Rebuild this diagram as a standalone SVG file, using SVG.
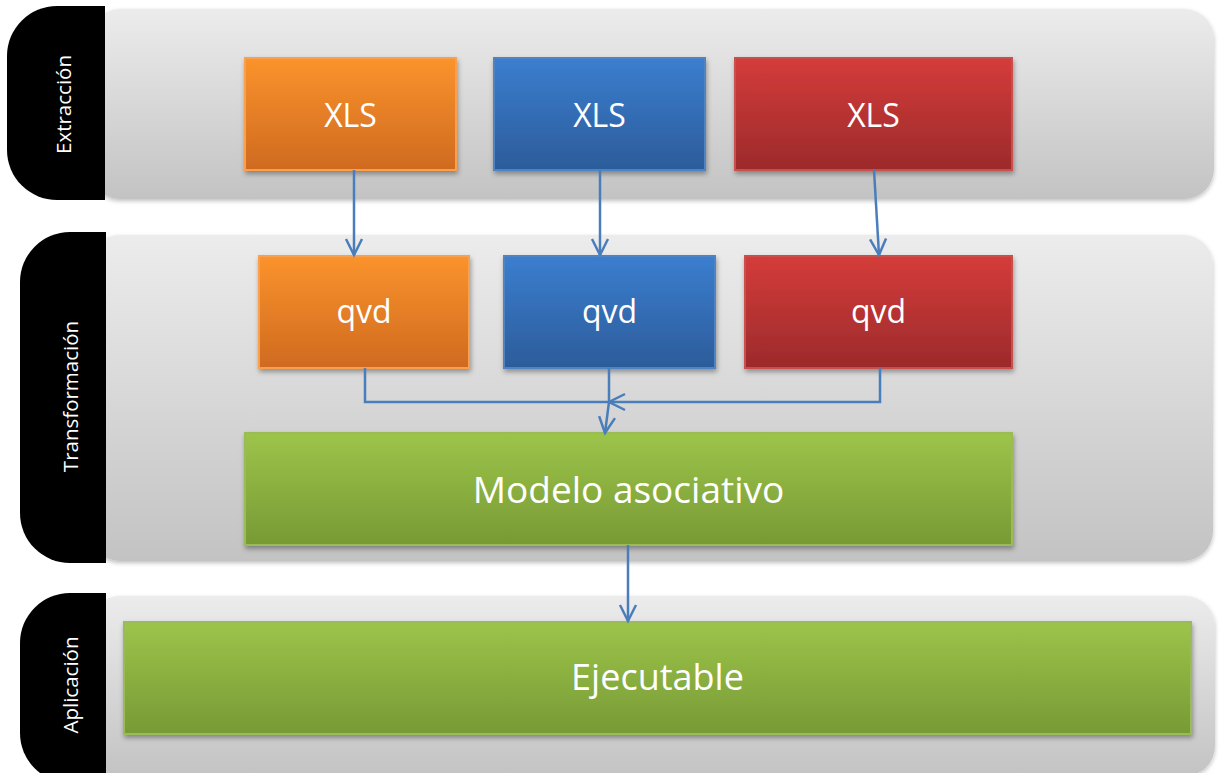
<svg xmlns="http://www.w3.org/2000/svg" width="1219" height="773" viewBox="0 0 1219 773">
<defs>
<linearGradient id="gBand" x1="0" y1="0" x2="0" y2="1"><stop offset="0" stop-color="#ececec"/><stop offset="1" stop-color="#c3c3c3"/></linearGradient>
<linearGradient id="gOrange" x1="0" y1="0" x2="0" y2="1"><stop offset="0" stop-color="#fb932d"/><stop offset="1" stop-color="#cf6a1f"/></linearGradient>
<linearGradient id="gBlue" x1="0" y1="0" x2="0" y2="1"><stop offset="0" stop-color="#3b7ecf"/><stop offset="1" stop-color="#2c5c9a"/></linearGradient>
<linearGradient id="gRed" x1="0" y1="0" x2="0" y2="1"><stop offset="0" stop-color="#d43c3a"/><stop offset="1" stop-color="#9c2a2b"/></linearGradient>
<linearGradient id="gGreen" x1="0" y1="0" x2="0" y2="1"><stop offset="0" stop-color="#9dc44a"/><stop offset="1" stop-color="#779a35"/></linearGradient>
<filter id="sh" x="-5%" y="-10%" width="110%" height="125%"><feDropShadow dx="1" dy="3" stdDeviation="2.5" flood-color="#000" flood-opacity="0.35"/></filter>
<filter id="shB" x="-5%" y="-10%" width="110%" height="125%"><feDropShadow dx="0" dy="2" stdDeviation="2" flood-color="#000" flood-opacity="0.25"/></filter>
<marker id="arr" markerUnits="userSpaceOnUse" markerWidth="22" markerHeight="22" viewBox="0 0 22 22" refX="19" refY="11" orient="auto"><path d="M3,3 L19,11 L3,19" fill="none" stroke="#4a7ebb" stroke-width="2.5"/></marker>
</defs>
<style>
.band{fill:url(#gBand);filter:url(#shB)}
.tab{fill:#000}
.tabtxt{font-family:"Open Sans","Liberation Sans",sans-serif;font-size:20.5px;fill:#fff;text-anchor:middle}
.box{filter:url(#sh);stroke-width:2}
.o{fill:url(#gOrange);stroke:#f9a04f}
.b{fill:url(#gBlue);stroke:#4f84c4}
.r{fill:url(#gRed);stroke:#c9504e}
.g{fill:url(#gGreen);stroke:#9bbb59}
.t{font-family:"Open Sans","Liberation Sans",sans-serif;font-size:32px;fill:#fff;text-anchor:middle}
.tl{font-family:"Open Sans","Liberation Sans",sans-serif;font-size:37px;fill:#fff;text-anchor:middle}
.c{fill:none;stroke:#4a7ebb;stroke-width:2.5}
</style>

<g id="band-extraccion">
<rect class="band" x="90" y="9" width="1124" height="190" rx="30"/>
<path class="tab" d="M105,6 H57 A50,50 0 0 0 7,56 V150 A50,50 0 0 0 57,200 H105 Z"/>
<text class="tabtxt" transform="translate(71,104.5) rotate(-90)">Extracción</text>
</g>
<g id="band-transformacion">
<rect class="band" x="90" y="235" width="1123" height="326" rx="30"/>
<path class="tab" d="M106,232 H70 A50,50 0 0 0 20,282 V513 A50,50 0 0 0 70,563 H106 Z"/>
<text class="tabtxt" transform="translate(78,396.5) rotate(-90)">Transformación</text>
</g>
<g id="band-aplicacion">
<rect class="band" x="90" y="596" width="1125" height="180" rx="30"/>
<path class="tab" d="M106,593 H70 A50,50 0 0 0 20,643 V733 A50,50 0 0 0 70,783 H106 Z"/>
<text class="tabtxt" transform="translate(78,685) rotate(-90)">Aplicación</text>
</g>

<g id="xls-orange"><rect class="box o" x="245" y="58" width="211" height="112"/><text class="t" x="350.5" y="126.5">XLS</text></g>
<g id="xls-blue"><rect class="box b" x="494" y="58" width="211" height="112"/><text class="t" x="599.5" y="126.5">XLS</text></g>
<g id="xls-red"><rect class="box r" x="735" y="58" width="277" height="112"/><text class="t" x="873.5" y="126.5">XLS</text></g>

<g id="qvd-orange"><rect class="box o" x="259" y="256" width="210" height="112"/><text class="t" x="364" y="323">qvd</text></g>
<g id="qvd-blue"><rect class="box b" x="504" y="256" width="211" height="112"/><text class="t" x="609.5" y="323">qvd</text></g>
<g id="qvd-red"><rect class="box r" x="745" y="256" width="267" height="112"/><text class="t" x="878.5" y="323">qvd</text></g>

<g id="modelo"><rect class="box g" x="245" y="433" width="767" height="112"/><text class="tl" x="628.5" y="503">Modelo asociativo</text></g>
<g id="ejecutable"><rect class="box g" x="124" y="622" width="1067" height="112"/><text class="tl" x="657.5" y="690" style="font-size:36px">Ejecutable</text></g>

<g id="connectors">
<path class="c" d="M354,170 V255" marker-end="url(#arr)"/>
<path class="c" d="M600,170 V255" marker-end="url(#arr)"/>
<path class="c" d="M874,170 L879,255" marker-end="url(#arr)"/>
<path class="c" d="M365,368 V402 H609"/>
<path class="c" d="M609,368 V402 L605,433" marker-end="url(#arr)"/>
<path class="c" d="M880,368 V402 H609" marker-end="url(#arr)"/>
<path class="c" d="M628,545 V621" marker-end="url(#arr)"/>
</g>
</svg>
